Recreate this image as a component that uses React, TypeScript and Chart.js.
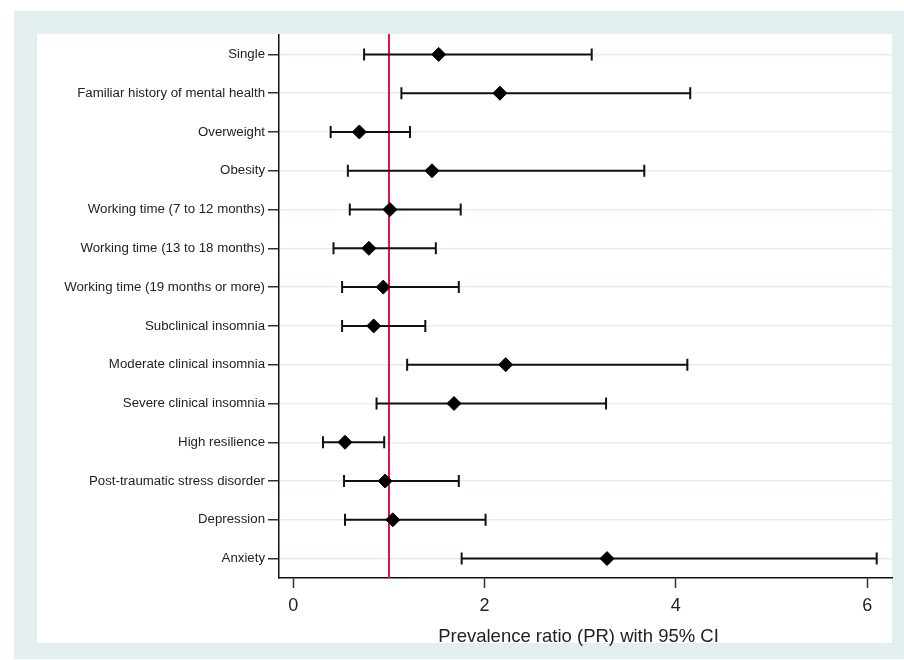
import { useEffect, useRef } from 'react';
import { Chart, registerables } from 'chart.js';

Chart.register(...registerables);

const categories = [
  'Single',
  'Familiar history of mental health',
  'Overweight',
  'Obesity',
  'Working time (7 to 12 months)',
  'Working time (13 to 18 months)',
  'Working time (19 months or more)',
  'Subclinical insomnia',
  'Moderate clinical insomnia',
  'Severe clinical insomnia',
  'High resilience',
  'Post-traumatic stress disorder',
  'Depression',
  'Anxiety',
];
const prValues = [1.52, 2.16, 0.69, 1.45, 1.01, 0.79, 0.94, 0.84, 2.22, 1.68, 0.54, 0.96, 1.04, 3.28];
const ciLower = [0.74, 1.13, 0.39, 0.57, 0.59, 0.42, 0.51, 0.51, 1.19, 0.87, 0.31, 0.53, 0.54, 1.76];
const ciUpper = [3.12, 4.15, 1.22, 3.67, 1.75, 1.49, 1.73, 1.38, 4.12, 3.27, 0.95, 1.73, 2.01, 6.1];
const xTickValues = [0, 2, 4, 6];
const referenceValue = 1;
const xMin = -0.15;
const xMax = 6.26;
const xTitle = 'Prevalence ratio (PR) with 95% CI';

const OUTER_BG = '#e2eef0';
const GRID = '#e3eef1';
const RED = '#e5123d';
const FONT = "'Liberation Sans', Arial, sans-serif";

export default function App() {
  const ref = useRef<HTMLCanvasElement | null>(null);

  useEffect(() => {
    if (!ref.current) return;

    const background = {
      id: 'background',
      beforeDraw(chart: any) {
        const { ctx, width, height } = chart;
        ctx.save();
        ctx.fillStyle = '#ffffff';
        ctx.fillRect(0, 0, width, height);
        ctx.fillStyle = OUTER_BG;
        ctx.fillRect(14, 11, width - 14, 648);
        ctx.fillStyle = '#ffffff';
        ctx.fillRect(37, 34, 855, 609);
        ctx.restore();
      },
      afterDraw(chart: any) {
        const { ctx } = chart;
        ctx.save();
        ctx.fillStyle = '#222222';
        ctx.font = `18.5px ${FONT}`;
        ctx.textAlign = 'center';
        ctx.textBaseline = 'alphabetic';
        ctx.fillText(xTitle, 578.5, 641.5);
        ctx.restore();
      },
    };

    const errorBars = {
      id: 'errorBars',
      beforeDatasetsDraw(chart: any) {
        const { ctx, chartArea } = chart;
        const xs = chart.scales.x;
        const ys = chart.scales.y;
        ctx.save();
        const rx = xs.getPixelForValue(referenceValue);
        ctx.strokeStyle = RED;
        ctx.lineWidth = 2;
        ctx.beginPath();
        ctx.moveTo(rx, chartArea.top - 1);
        ctx.lineTo(rx, chartArea.bottom);
        ctx.stroke();
        ctx.strokeStyle = '#111111';
        ctx.lineWidth = 2;
        categories.forEach((_, i) => {
          const y = ys.getPixelForValue(i);
          const xl = xs.getPixelForValue(ciLower[i]);
          const xu = xs.getPixelForValue(ciUpper[i]);
          ctx.beginPath();
          ctx.moveTo(xl, y);
          ctx.lineTo(xu, y);
          ctx.moveTo(xl, y - 6);
          ctx.lineTo(xl, y + 6);
          ctx.moveTo(xu, y - 6);
          ctx.lineTo(xu, y + 6);
          ctx.stroke();
        });
        ctx.restore();
      },
    };

    const chart = new Chart(ref.current, {
      type: 'line',
      data: {
        labels: categories,
        datasets: [
          {
            data: prValues,
            showLine: false,
            pointStyle: 'rectRot',
            pointRadius: 7,
            pointBackgroundColor: '#000000',
            pointBorderColor: '#000000',
            pointBorderWidth: 1,
          },
        ],
      },
      options: {
        indexAxis: 'y',
        responsive: false,
        animation: false,
        layout: { padding: { left: 37, top: 35, right: 12, bottom: 17 } },
        plugins: {
          legend: { display: false },
          tooltip: { enabled: false },
        },
        scales: {
          y: {
            type: 'category',
            offset: true,
            grid: {
              offset: false,
              color: GRID,
              lineWidth: 1.5,
              tickColor: '#333333',
              tickLength: 11,
              tickWidth: 1.5,
            },
            border: { color: '#111111', width: 1.5 },
            ticks: {
              color: '#222222',
              font: { family: FONT, size: 13.25 },
              padding: 3,
              autoSkip: false,
            },
            afterFit(scale: any) {
              scale.width = 242;
            },
          },
          x: {
            type: 'linear',
            min: xMin,
            max: xMax,
            grid: {
              drawOnChartArea: false,
              tickColor: '#333333',
              tickLength: 10,
              tickWidth: 1.5,
            },
            border: { color: '#111111', width: 1.5 },
            ticks: {
              color: '#222222',
              font: { family: FONT, size: 18 },
              padding: 7,
            },
            afterBuildTicks(scale: any) {
              scale.ticks = xTickValues.map((v) => ({ value: v }));
            },
            afterFit(scale: any) {
              scale.height = 65;
            },
          },
        },
      },
      plugins: [background, errorBars],
    });

    return () => chart.destroy();
  }, []);

  return (
    <div style={{ position: 'fixed', left: 0, top: 0, width: 904, height: 660 }}>
      <canvas ref={ref} width={904} height={660} style={{ width: 904, height: 660 }} />
    </div>
  );
}
